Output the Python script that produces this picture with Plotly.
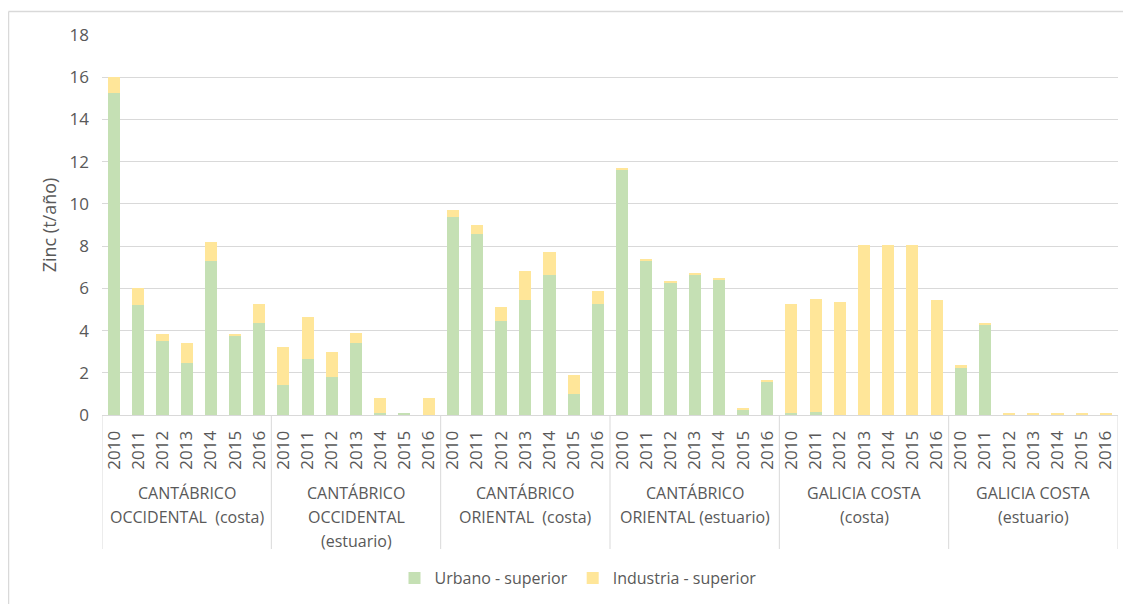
import plotly.graph_objects as go

groups = [
    "CANTÁBRICO|OCCIDENTAL  (costa)",
    "CANTÁBRICO|OCCIDENTAL|(estuario)",
    "CANTÁBRICO|ORIENTAL  (costa)",
    "CANTÁBRICO|ORIENTAL (estuario)",
    "GALICIA COSTA|(costa)",
    "GALICIA COSTA|(estuario)",
]
years = ["2010", "2011", "2012", "2013", "2014", "2015", "2016"]

urbano = [
    15.25, 5.21, 3.50, 2.48, 7.28, 3.78, 4.36,
    1.44, 2.64, 1.82, 3.41, 0.10, 0.05, 0.00,
    9.38, 8.57, 4.45, 5.46, 6.65, 1.01, 5.26,
    11.62, 7.31, 6.26, 6.64, 6.44, 0.25, 1.57,
    0.09, 0.15, 0.00, 0.00, 0.00, 0.00, 0.00,
    2.26, 4.31, 0.00, 0.00, 0.00, 0.00, 0.00,
]
industria = [
    0.75, 0.80, 0.33, 0.93, 0.92, 0.02, 0.90,
    1.78, 2.00, 1.15, 0.47, 0.70, 0.00, 0.80,
    0.33, 0.43, 0.67, 1.38, 1.09, 0.90, 0.63,
    0.07, 0.07, 0.07, 0.07, 0.07, 0.05, 0.06,
    5.17, 5.35, 5.35, 8.04, 8.04, 8.04, 5.45,
    0.09, 0.05, 0.06, 0.06, 0.06, 0.06, 0.06,
]

GREEN = "#C5E0B4"
YELLOW = "#FFE699"
TEXT = "#595959"
GRID = "#D9D9D9"
FONT = "Open Sans"

n_per = len(years)
xs = list(range(len(groups) * n_per))
ticktext = [y for _ in groups for y in years]

fig = go.Figure()
fig.add_trace(go.Bar(x=xs, y=urbano, name="Urbano - superior",
                     marker=dict(color=GREEN, line=dict(width=0))))
fig.add_trace(go.Bar(x=xs, y=industria, name="Industria - superior",
                     marker=dict(color=YELLOW, line=dict(width=0))))

OFF = 8  # page body margin
PAGE_W, PAGE_H = 1131, 604
W, H = PAGE_W - OFF, PAGE_H - OFF
PL, PR, PT, PB = 102, 1118, 35, 415  # plot area in page pixels
L, T = PL - OFF, PT - OFF
R = W - (PR - OFF)
B = H - (PB - OFF)
ph = PB - PT
pw = PR - PL


def py(pix):
    return (PB - pix) / ph


def px(pix):
    return (pix - PL) / pw


shapes = []
for g in range(len(groups) + 1):
    xv = g * n_per - 0.5
    shapes.append(dict(type="line", xref="x", yref="paper", x0=xv, x1=xv,
                       y0=0, y1=py(549), line=dict(color=GRID, width=1)))
# outer chart border
shapes.append(dict(type="line", xref="paper", yref="paper", x0=px(8.5), x1=px(1140),
                   y0=py(11.5), y1=py(11.5), line=dict(color=GRID, width=1.5)))
shapes.append(dict(type="line", xref="paper", yref="paper", x0=px(8.5), x1=px(8.5),
                   y0=py(11.5), y1=py(610), line=dict(color=GRID, width=1.5)))

annotations = []
for g, name in enumerate(groups):
    for i, line in enumerate(name.split("|")):
        annotations.append(dict(text=line, xref="x", yref="paper",
                                x=g * n_per + (n_per - 1) / 2, y=py(493 + 24 * i),
                                xanchor="center", yanchor="middle", showarrow=False,
                                font=dict(family=FONT, size=16, color=TEXT)))

fig.update_layout(
    width=W, height=H,
    margin=dict(l=L, r=R, t=T, b=B, autoexpand=False),
    paper_bgcolor="white", plot_bgcolor="white",
    barmode="stack", bargap=0.5,
    font=dict(family=FONT, size=16, color=TEXT),
    xaxis=dict(range=[-0.5, len(xs) - 0.5], tickmode="array", tickvals=xs,
               ticktext=ticktext, tickangle=-90, showgrid=False, zeroline=False,
               showline=True, linecolor=GRID, ticks="", ticklabelstandoff=8,
               tickfont=dict(family=FONT, size=17, color=TEXT)),
    yaxis=dict(range=[0, 18], dtick=2, showgrid=True, gridcolor=GRID,
               zeroline=False, showline=False, ticks="", ticklabelstandoff=12,
               tickfont=dict(family=FONT, size=17, color=TEXT),
               title=dict(text="Zinc (t/año)", standoff=8,
                          font=dict(family=FONT, size=18, color=TEXT))),
    legend=dict(orientation="h", x=px(578), xanchor="center", y=py(578),
                yanchor="middle", traceorder="normal",
                font=dict(family=FONT, size=16, color=TEXT)),
    shapes=shapes, annotations=annotations,
)

fig.write_html("out.html")
